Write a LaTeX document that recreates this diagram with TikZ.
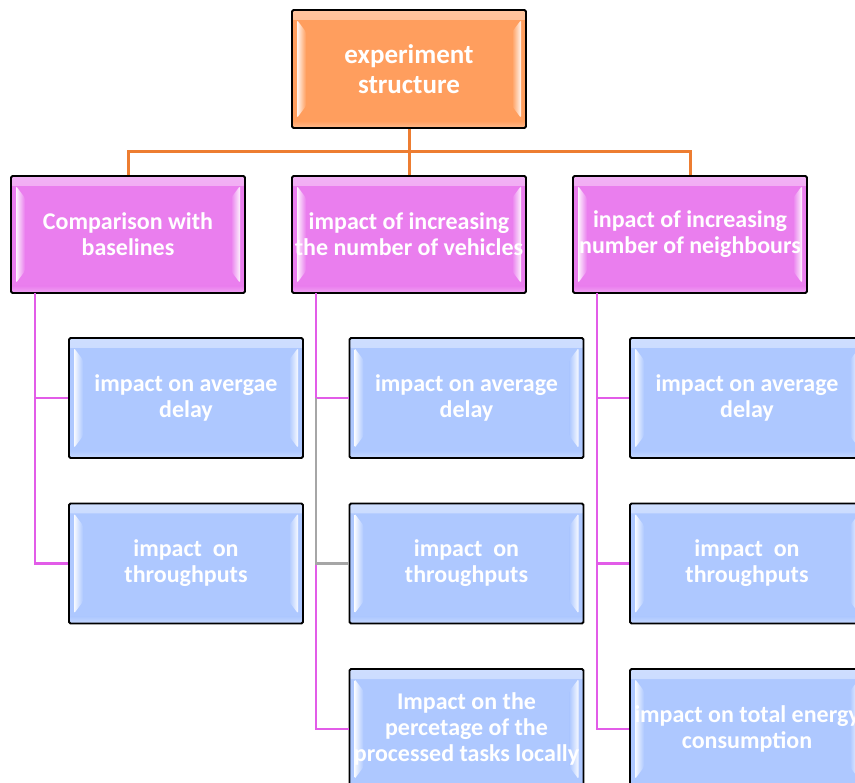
\documentclass[tikz,border=0pt]{standalone}
\usepackage{fontspec}
\setmainfont{Carlito}
\definecolor{rootfill}{RGB}{255,158,94}
\definecolor{midfill}{RGB}{234,126,238}
\definecolor{leaffill}{RGB}{174,200,255}
\definecolor{orangeline}{RGB}{237,125,49}
\definecolor{pinkline}{RGB}{226,92,232}
\definecolor{greyline}{RGB}{166,166,166}
\tikzset{
  tile/.style={
    draw=black, line width=1.8pt, fill=#1, rounded corners=1.5pt,
    minimum width=234pt, minimum height=118pt, inner sep=0pt,
    align=center, text=white, font=\bfseries\fontsize{24}{26}\selectfont,
    path picture={
      % soft highlight along the top and bottom edges
      \shade[top color=white!40!#1, bottom color=#1]
        (path picture bounding box.north west) rectangle
        ([yshift=-10pt]path picture bounding box.north east);
      \shade[bottom color=white!30!#1, top color=#1]
        (path picture bounding box.south west) rectangle
        ([yshift=7pt]path picture bounding box.south east);
      % bevelled side strips
      \shade[left color=white!90!#1, right color=#1]
        ([shift={(5pt,-10pt)}]path picture bounding box.north west) --
        ([shift={(14pt,-22pt)}]path picture bounding box.north west) --
        ([shift={(14pt,22pt)}]path picture bounding box.south west) --
        ([shift={(5pt,10pt)}]path picture bounding box.south west) -- cycle;
      \shade[right color=white!90!#1, left color=#1]
        ([shift={(-5pt,-10pt)}]path picture bounding box.north east) --
        ([shift={(-14pt,-22pt)}]path picture bounding box.north east) --
        ([shift={(-14pt,22pt)}]path picture bounding box.south east) --
        ([shift={(-5pt,10pt)}]path picture bounding box.south east) -- cycle;
    }},
  rootbox/.style={tile=rootfill, font=\bfseries\fontsize{27}{30}\selectfont},
  midbox/.style={tile=midfill, minimum height=117pt},
  leafbox/.style={tile=leaffill, minimum height=120pt},
  oline/.style={draw=orangeline, line width=3pt},
  pline/.style={draw=pinkline, line width=2.8pt},
  gline/.style={draw=greyline, line width=2.8pt},
}
\begin{document}
\begin{tikzpicture}[x=1pt,y=-1pt]
  \useasboundingbox (0,0) rectangle (855,783);
  \clip (0,0) rectangle (855,783);
  \fill[white] (0,0) rectangle (855,783);

  % connector junction points
  \coordinate (bus) at (409,152);
  \coordinate (ta) at (35,293);
  \coordinate (tb) at (316,293);
  \coordinate (tc) at (597,293);

  % tree nodes
  \node[rootbox] (root) at (409,69) {experiment\\structure};

  \node[midbox] (l1a) at (128,234.5) {Comparison with\\baselines};
  \node[midbox] (l1b) at (409,234.5) {impact of increasing\\the number of vehicles};
  \node[midbox] (l1c) at (690,234.5) {inpact of increasing\\number of neighbours};

  \node[leafbox] (a1) at (186,398) {impact on avergae\\delay};
  \node[leafbox] (a2) at (186,563.5) {impact\ \ on\\throughputs};

  \node[leafbox] (b1) at (466.5,398) {impact on average\\delay};
  \node[leafbox] (b2) at (466.5,563.5) {impact\ \ on\\throughputs};
  \node[leafbox] (b3) at (466.5,729) {Impact on the\\percetage of the\\processed tasks locally};

  \node[leafbox] (c1) at (747,398) {impact on average\\delay};
  \node[leafbox] (c2) at (747,563.5) {impact\ \ on\\throughputs};
  \node[leafbox] (c3) at (747,729) {impact on total energy\\consumption};

  % connectors
  \path[oline] (l1a.north) |- (bus) -| (l1c.north);
  \path[oline] (root.south) -- (l1b.north);

  \path[pline] (ta) |- (a1.west);
  \path[pline] (ta) |- (a2.west);

  \path[pline] (tb) |- (b1.west);
  \path[pline] (tb |- b2.west) |- (b3.west);
  \path[gline] (tb |- b1.west) |- (b2.west);

  \path[pline] (tc) |- (c1.west);
  \path[pline] (tc) |- (c2.west);
  \path[pline] (tc) |- (c3.west);
\end{tikzpicture}
\end{document}
